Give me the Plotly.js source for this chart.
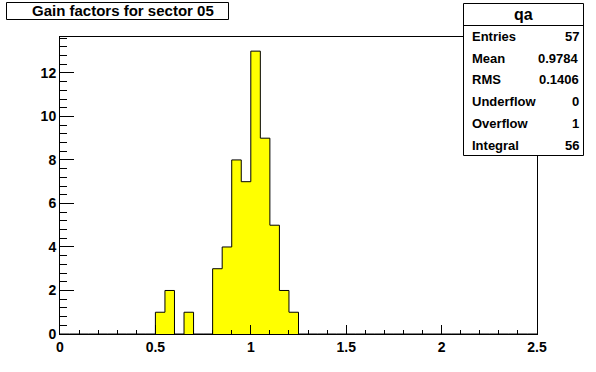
<!DOCTYPE html>
<html>
<head>
<meta charset="utf-8">
<script src="https://cdn.plot.ly/plotly-3.0.1.min.js"></script>
<style>html,body{margin:0;padding:0;background:#fff}#chart{width:596px;height:372px}</style>
</head>
<body>
<div id="chart"></div>
<script>
// Histogram data (bin width 0.05, range 0..2.5)
var binWidth = 0.05;
var xMin = 0, xMax = 2.5;
var binLowEdges = [0.50, 0.55, 0.65, 0.80, 0.85, 0.90, 0.95, 1.00, 1.05, 1.10, 1.15, 1.20];
var binCounts   = [1,    2,    1,    3,    4,    8,    7,    13,   9,    5,    2,    1];
var titleText = "Gain factors for sector 05";
var statsName = "qa";
var statsLabels = ["Entries", "Mean", "RMS", "Underflow", "Overflow", "Integral"];
var statsValues = ["57", "0.9784", "0.1406", "0", "1", "56"];
var xTickVals = [0, 0.5, 1, 1.5, 2, 2.5];
var xTickText = ["0", "0.5", "1", "1.5", "2", "2.5"];
var yTickVals = [0, 2, 4, 6, 8, 10, 12];

// build full step contour
var nBins = Math.round((xMax - xMin) / binWidth);
var full = new Array(nBins).fill(0);
binLowEdges.forEach(function(e, i){ full[Math.round((e - xMin)/binWidth)] = binCounts[i]; });
var sx = [], sy = [];
for (var i = 0; i < nBins; i++) { sx.push(xMin + i*binWidth); sy.push(full[i]); }
sx.push(xMax); sy.push(0);

var ymax = Math.max.apply(null, binCounts) * 1.05;

var font = "Liberation Sans, Arial, sans-serif";
var trace = {
  x: sx, y: sy, type: "scatter", mode: "lines",
  line: {shape: "hv", color: "#000", width: 1},
  fill: "tozeroy", fillcolor: "#ffff00", hoverinfo: "skip"
};

var L = 60, R = 537, T = 37, B = 334, W = 596, H = 372;
function pxp(x){ return (x - L) / (R - L); }
function pyp(y){ return (B - y) / (B - T); }

var shapes = [
  {type:"rect", xref:"paper", yref:"paper", x0:pxp(6.5), x1:pxp(228.5), y0:pyp(2.5), y1:pyp(19.5),
   line:{color:"#000", width:1}, fillcolor:"#fff", layer:"above"},
  {type:"rect", xref:"paper", yref:"paper", x0:pxp(463.5), x1:pxp(583.5), y0:pyp(3.5), y1:pyp(155.5),
   line:{color:"#000", width:1}, fillcolor:"#fff", layer:"above"},
  {type:"line", xref:"paper", yref:"paper", x0:pxp(463.5), x1:pxp(583.5), y0:pyp(25.5), y1:pyp(25.5),
   line:{color:"#000", width:1}, layer:"above"}
];

var annotations = [
  {text: "<b>" + titleText + "</b>", xref:"paper", yref:"paper", x: pxp(123), y: pyp(11), xanchor:"center", yanchor:"middle",
   showarrow:false, font:{family:font, size:15, color:"#000"}},
  {text: "<b>" + statsName + "</b>", xref:"paper", yref:"paper", x: pxp(523.5), y: pyp(14), xanchor:"center", yanchor:"middle",
   showarrow:false, font:{family:font, size:16, color:"#000"}}
];
statsLabels.forEach(function(lbl, i){
  var yc = 36.5 + i * 21.7;
  annotations.push({text:"<b>"+lbl+"</b>", xref:"paper", yref:"paper", x:pxp(470), y:pyp(yc), xanchor:"left", yanchor:"middle",
    showarrow:false, font:{family:font, size:13, color:"#000"}});
  annotations.push({text:"<b>"+statsValues[i]+"</b>", xref:"paper", yref:"paper", x:pxp(581), y:pyp(yc), xanchor:"right", yanchor:"middle",
    showarrow:false, font:{family:font, size:13, color:"#000"}});
});

var layout = {
  width: W, height: H,
  margin: {l: L, r: W - R, t: T, b: H - B, pad: 0},
  paper_bgcolor: "#fff", plot_bgcolor: "#fff",
  showlegend: false,
  xaxis: {
    range: [xMin, xMax], tickmode: "array", tickvals: xTickVals, ticktext: xTickText,
    ticks: "inside", ticklen: 9, tickwidth: 1, tickcolor: "#000",
    minor: {dtick: 0.1, ticks: "inside", ticklen: 4, tickwidth: 1, tickcolor: "#000"},
    showline: true, linecolor: "#000", linewidth: 1, mirror: true,
    showgrid: false, zeroline: false,
    tickfont: {family: font, size: 14, color: "#000", weight: "bold"}
  },
  yaxis: {
    range: [0, ymax], tickmode: "array", tickvals: yTickVals,
    ticks: "inside", ticklen: 14, tickwidth: 1, tickcolor: "#000",
    minor: {dtick: 0.4, ticks: "inside", ticklen: 7, tickwidth: 1, tickcolor: "#000"},
    showline: true, linecolor: "#000", linewidth: 1, mirror: true,
    showgrid: false, zeroline: false,
    tickfont: {family: font, size: 14, color: "#000", weight: "bold"}
  },
  shapes: shapes,
  annotations: annotations
};

Plotly.newPlot("chart", [trace], layout, {staticPlot: true, displayModeBar: false});
</script>
</body>
</html>
